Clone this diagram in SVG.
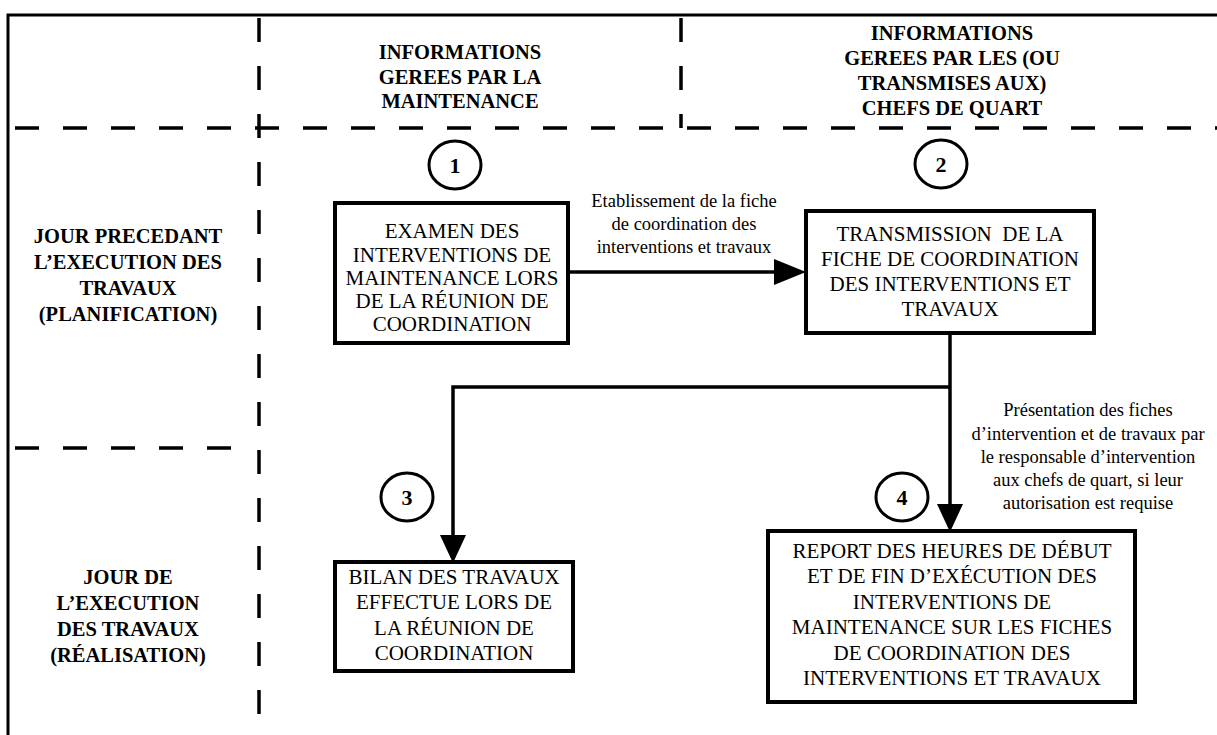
<svg xmlns="http://www.w3.org/2000/svg" width="1217" height="735" viewBox="0 0 1217 735">
<defs>
<style>
.frame{stroke:#000;stroke-width:3;fill:none}
.dash{stroke:#000;stroke-width:3.5;fill:none;stroke-dasharray:24 24}
.box{stroke:#000;stroke-width:4;fill:#fff}
.num{stroke:#000;stroke-width:3;fill:#fff}
.conn{stroke:#000;stroke-width:3.5;fill:none}
.hd{font-family:"Liberation Serif","Times New Roman",serif;font-weight:bold;font-size:20.5px;text-anchor:middle;fill:#000}
.bt{font-family:"Liberation Serif","Times New Roman",serif;font-size:21px;text-anchor:middle;fill:#000}
.lb{font-family:"Liberation Serif","Times New Roman",serif;font-size:18.5px;text-anchor:middle;fill:#000}
.nt{font-family:"Liberation Serif","Times New Roman",serif;font-weight:bold;font-size:22px;text-anchor:middle;fill:#000}
</style>
<marker id="ah" markerUnits="userSpaceOnUse" markerWidth="32" markerHeight="26" refX="0" refY="13" orient="auto">
<path d="M0,0 L32,13 L0,26 z" fill="#000"/>
</marker>
<marker id="av" markerUnits="userSpaceOnUse" markerWidth="28" markerHeight="26" refX="0" refY="13" orient="auto">
<path d="M0,0 L28,13 L0,26 z" fill="#000"/>
</marker>
</defs>
<rect width="1217" height="735" fill="#fff"/>

<g id="grid">
<path class="frame" d="M8,735 L8,15 L1217,15"/>
<line class="dash" x1="15" y1="128" x2="1217" y2="128"/>
<line class="dash" x1="15" y1="448" x2="240" y2="448"/>
<line class="dash" x1="259" y1="18" x2="259" y2="722"/>
<line class="dash" x1="681" y1="18" x2="681" y2="128"/>
</g>

<g id="header-maintenance">
<text class="hd" x="460" y="59">INFORMATIONS</text>
<text class="hd" x="460" y="84">GEREES PAR LA</text>
<text class="hd" x="460" y="108">MAINTENANCE</text>
</g>
<g id="header-chefs">
<text class="hd" x="952" y="40">INFORMATIONS</text>
<text class="hd" x="952" y="65">GEREES PAR LES (OU</text>
<text class="hd" x="952" y="90">TRANSMISES AUX)</text>
<text class="hd" x="952" y="115">CHEFS DE QUART</text>
</g>
<g id="row-planification">
<text class="hd" x="128" y="243">JOUR PRECEDANT</text>
<text class="hd" x="128" y="269">L’EXECUTION DES</text>
<text class="hd" x="128" y="295">TRAVAUX</text>
<text class="hd" x="128" y="321">(PLANIFICATION)</text>
</g>
<g id="row-realisation">
<text class="hd" x="128" y="584">JOUR DE</text>
<text class="hd" x="128" y="610">L’EXECUTION</text>
<text class="hd" x="128" y="636">DES TRAVAUX</text>
<text class="hd" x="128" y="662">(RÉALISATION)</text>
</g>

<g id="connectors">
<line class="conn" x1="568" y1="272" x2="774" y2="272" marker-end="url(#ah)"/>
<line class="conn" x1="950" y1="333" x2="950" y2="504" marker-end="url(#av)"/>
<polyline class="conn" points="950,387 453,387 453,535" marker-end="url(#av)"/>
<g id="label-1">
<text class="lb" x="684" y="207">Etablissement de la fiche</text>
<text class="lb" x="684" y="230">de coordination des</text>
<text class="lb" x="684" y="253">interventions et travaux</text>
</g>
<g id="label-2">
<text class="lb" x="1088" y="416">Présentation des fiches</text>
<text class="lb" x="1088" y="440">d’intervention et de travaux par</text>
<text class="lb" x="1088" y="463">le responsable d’intervention</text>
<text class="lb" x="1088" y="486">aux chefs de quart, si leur</text>
<text class="lb" x="1088" y="509">autorisation est requise</text>
</g>
</g>

<g id="node-1">
<ellipse class="num" cx="455" cy="165" rx="26" ry="24"/>
<text class="nt" x="455" y="173">1</text>
<rect class="box" x="335" y="203" width="233" height="140"/>
<text class="bt" x="452" y="238">EXAMEN DES</text>
<text class="bt" x="452" y="262">INTERVENTIONS DE</text>
<text class="bt" x="452" y="285">MAINTENANCE LORS</text>
<text class="bt" x="452" y="308">DE LA RÉUNION DE</text>
<text class="bt" x="452" y="331">COORDINATION</text>
</g>

<g id="node-2">
<ellipse class="num" cx="941" cy="164" rx="26" ry="24"/>
<text class="nt" x="941" y="172">2</text>
<rect class="box" x="806" y="211" width="288" height="122"/>
<text class="bt" x="950" y="241" xml:space="preserve">TRANSMISSION  DE LA</text>
<text class="bt" x="950" y="266">FICHE DE COORDINATION</text>
<text class="bt" x="950" y="291">DES INTERVENTIONS ET</text>
<text class="bt" x="950" y="316">TRAVAUX</text>
</g>

<g id="node-3">
<ellipse class="num" cx="407" cy="497" rx="26" ry="24"/>
<text class="nt" x="407" y="505">3</text>
<rect class="box" x="335" y="562" width="238" height="109"/>
<text class="bt" x="454" y="584">BILAN DES TRAVAUX</text>
<text class="bt" x="454" y="609">EFFECTUE  LORS DE</text>
<text class="bt" x="454" y="635">LA RÉUNION DE</text>
<text class="bt" x="454" y="660">COORDINATION</text>
</g>

<g id="node-4">
<ellipse class="num" cx="902" cy="497" rx="26" ry="24"/>
<text class="nt" x="902" y="505">4</text>
<rect class="box" x="768" y="531" width="367" height="171"/>
<text class="bt" x="952" y="558">REPORT DES HEURES DE DÉBUT</text>
<text class="bt" x="952" y="583">ET DE FIN D’EXÉCUTION DES</text>
<text class="bt" x="952" y="609">INTERVENTIONS DE</text>
<text class="bt" x="952" y="634">MAINTENANCE SUR LES FICHES</text>
<text class="bt" x="952" y="660">DE COORDINATION DES</text>
<text class="bt" x="952" y="685">INTERVENTIONS ET TRAVAUX</text>
</g>
</svg>
